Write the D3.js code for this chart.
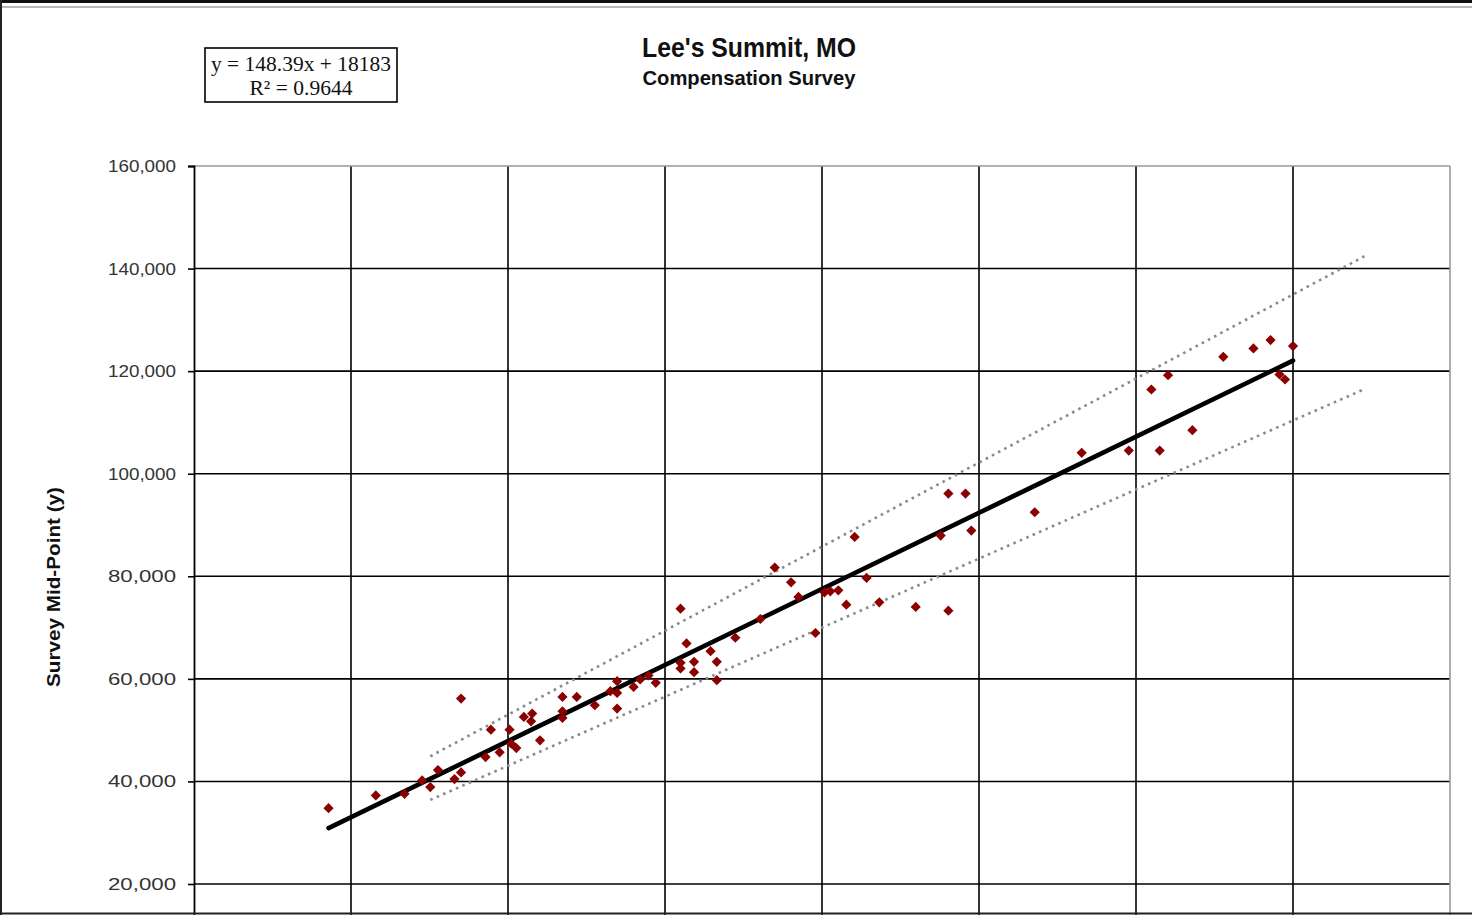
<!DOCTYPE html>
<html>
<head>
<meta charset="utf-8">
<script src="https://cdn.jsdelivr.net/npm/d3@7"></script>
<style>
  html, body { margin: 0; padding: 0; background: #fff; overflow: hidden; }
  svg { display: block; }
</style>
</head>
<body>
<svg id="chart" width="1472" height="915"></svg>
<script>
// ---- data ----
const titleText = "Lee's Summit, MO";
const subtitleText = "Compensation Survey";
const yAxisTitle = "Survey  Mid-Point (y)";
const equationLines = ["y = 148.39x + 18183", "R² = 0.9644"];
const trendSlope = 148.39;
const trendIntercept = 18183;

const yTicks = [20000, 40000, 60000, 80000, 100000, 120000, 140000, 160000];
const xGrid = [0, 100, 200, 300, 400, 500, 600, 700, 800];

const pointX = [85.7, 115.8, 134.1, 145.3, 150.5, 155.4, 165.9, 170.1, 170.1, 185.7,
  189.1, 194.7, 201.0, 202.1, 205.3, 210.1, 215.4, 214.7, 220.4, 234.7,
  234.7, 234.7, 243.8, 255.3, 269.5, 269.5, 269.5, 265.2, 280.0, 284.2,
  289.5, 294.1, 309.9, 313.7, 309.9, 309.9, 318.5, 318.5, 329.0, 333.0,
  333.0, 344.8, 360.7, 369.9, 380.3, 385.0, 401.6, 405.3, 410.4, 415.5,
  420.8, 428.4, 436.5, 395.8, 459.7, 480.5, 475.6, 480.5, 491.4, 495.1,
  535.5, 565.4, 595.4, 615.1, 635.9, 609.8, 620.4, 655.6, 674.8, 685.7,
  700.0, 691.4, 694.9];
const pointY = [34787, 37263, 37589, 40194, 38891, 42214, 40455, 41758, 56156, 44755,
  50097, 45667, 50097, 47361, 46500, 52573, 53224, 51726, 48012, 56482,
  53680, 52378, 56482, 54853, 59544, 57264, 54202, 57590, 58436, 59870,
  60651, 59218, 73681, 66906, 63127, 62020, 63323, 61303, 65407, 63323,
  59739, 68013, 71675, 81692, 78830, 75968, 76879, 77074, 77269, 74472,
  87675, 79675, 74927, 68944, 74017, 73301, 87935, 96130, 96130, 88911,
  92488, 104065, 104520, 104520, 108488, 116423, 119220, 122797, 124423, 126049,
  124878, 119350, 118374];

const bandX = [150.5, 745.5];
const upperBand = [44900, 142400];
const lowerBand = [36400, 116500];

(function () {
// ---- layout ----
const svg = d3.select("#chart");
const W = 1472, H = 915;
const pLeft = 194, pRight = 1450, pTop = 166;
const y20 = 884;
const perStep = (y20 - pTop) / 7;          // px per 20,000
const pBottom = y20 + perStep;             // where 0 sits (below visible area)

const x = d3.scaleLinear().domain([0, 800]).range([pLeft, pRight]);
const y = d3.scaleLinear().domain([0, 160000]).range([pBottom, pTop]);

svg.append("rect").attr("x", 0).attr("y", 0).attr("width", W).attr("height", H).attr("fill", "#fff");

// plot area gridlines
const g = svg.append("g");
g.selectAll("line.hgrid").data(yTicks.filter(v => v < 160000)).join("line")
  .attr("class", "hgrid")
  .attr("x1", pLeft).attr("x2", pRight)
  .attr("y1", d => y(d)).attr("y2", d => y(d))
  .attr("stroke", "#000").attr("stroke-width", 1.6);
g.selectAll("line.vgrid").data(xGrid.filter(v => v > 0 && v < 800)).join("line")
  .attr("class", "vgrid")
  .attr("x1", d => x(d)).attr("x2", d => x(d))
  .attr("y1", pTop).attr("y2", pBottom)
  .attr("stroke", "#000").attr("stroke-width", 1.6);
g.append("line").attr("x1", pLeft).attr("x2", pRight).attr("y1", pTop).attr("y2", pTop)
  .attr("stroke", "#999").attr("stroke-width", 1.6);
g.append("line").attr("x1", pRight).attr("x2", pRight).attr("y1", pTop).attr("y2", pBottom)
  .attr("stroke", "#999").attr("stroke-width", 1.6);

// y axis
const yAxis = d3.axisLeft(y).tickValues(yTicks).tickFormat(d3.format(",")).tickSize(6).tickPadding(12);
const ya = svg.append("g").attr("transform", `translate(${pLeft},0)`).call(yAxis);
ya.select(".domain").attr("stroke", "#000").attr("stroke-width", 1.8);
ya.selectAll(".tick line").attr("stroke", "#000").attr("stroke-width", 1.6);
ya.selectAll(".tick text")
  .attr("font-family", "'Liberation Sans', Arial, sans-serif")
  .attr("font-size", 17).attr("fill", "#333")
  .attr("textLength", 68).attr("lengthAdjust", "spacingAndGlyphs");

// bands (dotted)
const xyLine = d3.line().x(d => x(d[0])).y(d => y(d[1]));
[upperBand, lowerBand].forEach(b => {
  svg.append("path")
    .datum(bandX.map((xv, i) => [xv, b[i]]))
    .attr("d", xyLine)
    .attr("fill", "none")
    .attr("stroke", "#8a8a8a").attr("stroke-width", 2.6)
    .attr("stroke-dasharray", "2.6,4.4");
});

// trend line
const xMin = d3.min(pointX), xMax = d3.max(pointX);
svg.append("path")
  .datum([xMin, xMax].map(v => [v, trendSlope * v + trendIntercept]))
  .attr("d", xyLine)
  .attr("fill", "none").attr("stroke", "#000").attr("stroke-width", 4.6)
  .attr("stroke-linecap", "round");

// points (diamonds)
const pts = pointX.map((v, i) => [v, pointY[i]]);
const diamond = d3.symbol().type(d3.symbolSquare).size(52);
svg.append("g").selectAll("path").data(pts).join("path")
  .attr("d", diamond)
  .attr("transform", d => `translate(${x(d[0])},${y(d[1])}) rotate(45)`)
  .attr("fill", "#8b0000");

// frame lines
svg.append("line").attr("x1", 0).attr("x2", W).attr("y1", 1.5).attr("y2", 1.5)
  .attr("stroke", "#111").attr("stroke-width", 3);
svg.append("line").attr("x1", 0).attr("x2", W).attr("y1", 7).attr("y2", 7)
  .attr("stroke", "#b8b8b8").attr("stroke-width", 2);
svg.append("line").attr("x1", 1).attr("x2", 1).attr("y1", 0).attr("y2", H)
  .attr("stroke", "#222").attr("stroke-width", 2);
svg.append("line").attr("x1", 0).attr("x2", W).attr("y1", H - 1.5).attr("y2", H - 1.5)
  .attr("stroke", "#222").attr("stroke-width", 2);

// titles
svg.append("text").attr("x", 749).attr("y", 57).attr("text-anchor", "middle")
  .attr("font-family", "'Liberation Sans Narrow', 'Liberation Sans', Arial, sans-serif")
  .attr("font-weight", "bold").attr("font-size", 27).attr("fill", "#111")
  .attr("textLength", 214).attr("lengthAdjust", "spacingAndGlyphs")
  .text(titleText);
svg.append("text").attr("x", 749).attr("y", 85).attr("text-anchor", "middle")
  .attr("font-family", "'Liberation Sans Narrow', 'Liberation Sans', Arial, sans-serif")
  .attr("font-weight", "bold").attr("font-size", 21).attr("fill", "#111")
  .attr("textLength", 213).attr("lengthAdjust", "spacingAndGlyphs")
  .text(subtitleText);

// y axis title
svg.append("text")
  .attr("transform", "translate(60,587) rotate(-90)")
  .attr("text-anchor", "middle")
  .attr("font-family", "'Liberation Sans Narrow', 'Liberation Sans', Arial, sans-serif")
  .attr("font-weight", "bold").attr("font-size", 19).attr("fill", "#111")
  .attr("textLength", 200).attr("lengthAdjust", "spacingAndGlyphs")
  .text(yAxisTitle);

// equation box
svg.append("rect").attr("x", 205).attr("y", 48).attr("width", 192).attr("height", 54)
  .attr("fill", "#fff").attr("stroke", "#000").attr("stroke-width", 1.6);
svg.append("text").attr("x", 301).attr("y", 71).attr("text-anchor", "middle")
  .attr("font-family", "'Liberation Serif', 'Times New Roman', serif")
  .attr("font-size", 21).attr("fill", "#111")
  .attr("textLength", 180).attr("lengthAdjust", "spacingAndGlyphs")
  .text(equationLines[0]);
svg.append("text").attr("x", 301).attr("y", 95).attr("text-anchor", "middle")
  .attr("font-family", "'Liberation Serif', 'Times New Roman', serif")
  .attr("font-size", 21).attr("fill", "#111")
  .attr("textLength", 103).attr("lengthAdjust", "spacingAndGlyphs")
  .text(equationLines[1]);
})();
</script>
</body>
</html>
